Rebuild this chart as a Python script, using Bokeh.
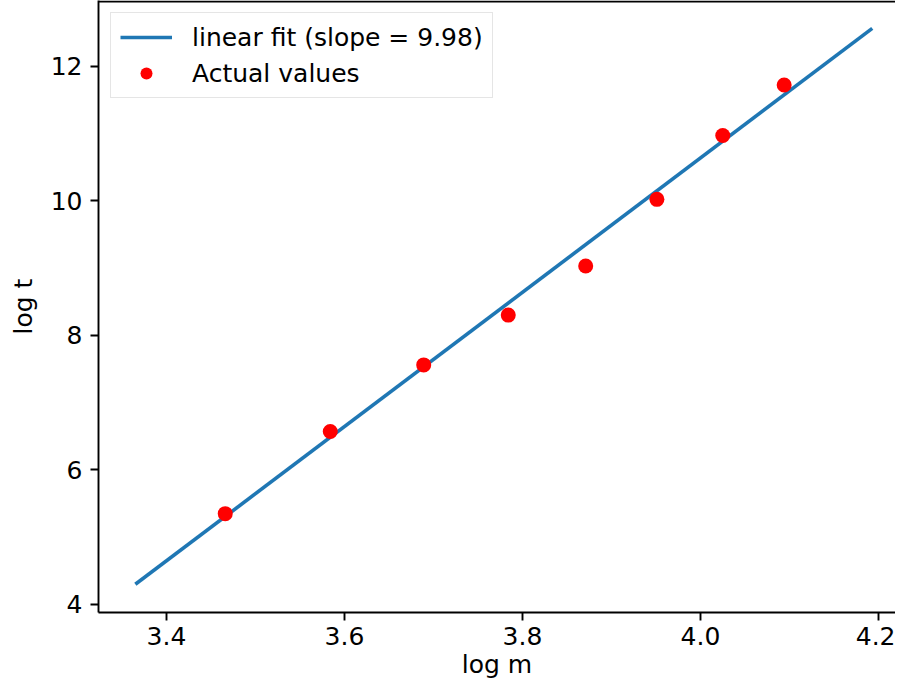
from bokeh.plotting import figure
from bokeh.models import Range1d, FixedTicker, NumeralTickFormatter, Span, Legend, LegendItem
from bokeh.embed import file_html
from bokeh.resources import INLINE

# Data
log_m = [3.466, 3.584, 3.689, 3.784, 3.871, 3.951, 4.025, 4.094]
log_t = [5.35, 6.57, 7.56, 8.30, 9.03, 10.02, 10.97, 11.72]
fit_x = [3.365, 4.193]
fit_y = [4.30, 12.56]
slope = 9.98
x_ticks = [3.4, 3.6, 3.8, 4.0, 4.2]
y_ticks = [4, 6, 8, 10, 12]

FONT = "DejaVu Sans"
Y_END = 12.975

p = figure(width=895, height=681,
           x_range=Range1d(3.3236, 4.2191), y_range=Range1d(3.881, Y_END),
           output_backend="svg", toolbar_location=None,
           min_border_left=98, min_border_right=0, min_border_top=0, min_border_bottom=67)

p.background_fill_color = "white"
p.border_fill_color = "white"
p.outline_line_color = None
p.xgrid.visible = False
p.ygrid.visible = False

ln = p.line(fit_x, fit_y, line_color="#1f77b4", line_width=3.6)
sc = p.scatter(log_m, log_t, size=15, fill_color="red", line_color=None)

# top spine
p.add_layout(Span(location=Y_END - 1.0 / 67.4, dimension="width",
                  line_color="black", line_width=1.9))

for ax in (p.xaxis[0], p.yaxis[0]):
    ax.axis_line_color = "black"
    ax.axis_line_width = 1.9
    ax.major_tick_line_color = "black"
    ax.major_tick_line_width = 1.9
    ax.major_tick_out = 8
    ax.major_tick_in = 0
    ax.minor_tick_line_color = None
    ax.major_label_text_font = FONT
    ax.major_label_text_font_size = "25px"
    ax.major_label_text_color = "black"
    ax.axis_label_text_font = FONT
    ax.axis_label_text_font_size = "25px"
    ax.axis_label_text_font_style = "normal"
    ax.axis_label_text_color = "black"

p.xaxis.ticker = FixedTicker(ticks=x_ticks)
p.yaxis.ticker = FixedTicker(ticks=y_ticks)
p.xaxis.formatter = NumeralTickFormatter(format="0.0")
p.yaxis.formatter = NumeralTickFormatter(format="0")
p.xaxis.axis_label = "log m"
p.yaxis.axis_label = "log t"
p.xaxis.major_label_standoff = 6
p.xaxis.axis_label_standoff = 2
p.yaxis.major_label_standoff = 8
p.yaxis.axis_label_standoff = 10

legend = Legend(items=[
    LegendItem(label=f"linear fit (slope = {slope:.2f})", renderers=[ln]),
    LegendItem(label="Actual values", renderers=[sc]),
], location="top_left")
legend.margin = 12
legend.padding = 9
legend.spacing = 6
legend.glyph_width = 52
legend.glyph_height = 30
legend.label_height = 30
legend.label_standoff = 20
legend.label_text_font = FONT
legend.label_text_font_size = "25px"
legend.label_text_color = "black"
legend.border_line_color = "#cccccc"
legend.border_line_width = 1.5
legend.background_fill_color = "white"
legend.background_fill_alpha = 0.8
p.add_layout(legend)

open("out.html", "w").write(file_html(p, INLINE))
